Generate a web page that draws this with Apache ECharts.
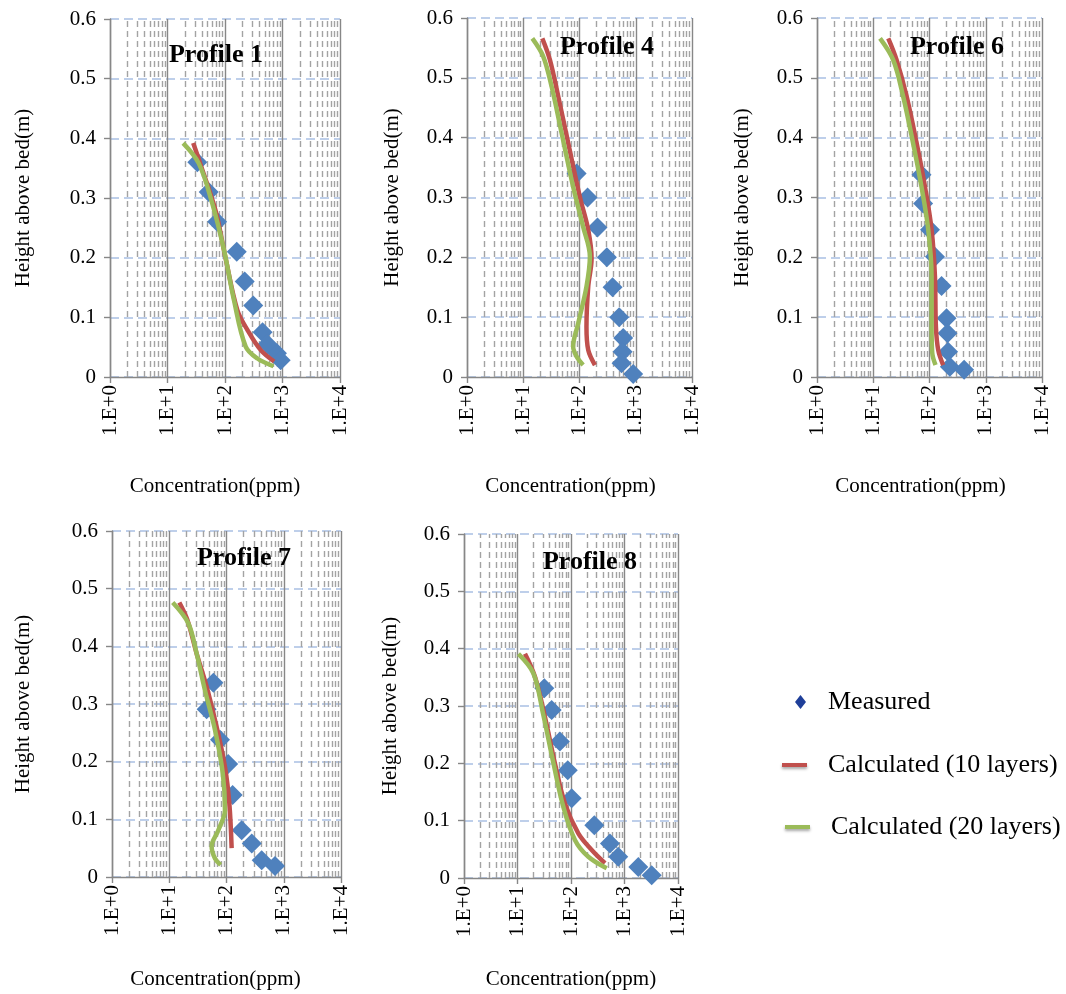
<!DOCTYPE html>
<html>
<head>
<meta charset="utf-8">
<script src="https://cdn.jsdelivr.net/npm/echarts@6/dist/echarts.min.js"></script>
<style>
  html, body { margin: 0; padding: 0; background: #ffffff; }
  #chart { width: 1066px; height: 994px; }
</style>
</head>
<body>
<div id="chart"></div>
<script>
// Suspended sediment concentration profiles: [concentration (ppm), height above bed (m)]
const profileNames = ['Profile 1', 'Profile 4', 'Profile 6', 'Profile 7', 'Profile 8'];
const seriesNames = ['Measured', 'Calculated (10 layers)', 'Calculated (20 layers)'];
const heightTicks = [0, 0.1, 0.2, 0.3, 0.4, 0.5, 0.6];
const concDecades = [1, 10, 100, 1000, 10000];
const minorMantissas = [2, 3, 4, 5, 6, 7, 8, 9];

const p1Measured = [[33, 0.36], [52, 0.31], [73, 0.26], [160, 0.21], [220, 0.16], [310, 0.12], [450, 0.075], [550, 0.055], [800, 0.04], [930, 0.028]];
const p1Calc10 = [[28, 0.392], [37, 0.358], [68, 0.28], [102, 0.2], [164, 0.112], [245, 0.079], [419, 0.045], [716, 0.026]];
const p1Calc20 = [[18.7, 0.392], [35, 0.358], [60, 0.291], [96, 0.213], [143, 0.129], [229, 0.051], [367, 0.031], [698, 0.018]];

const p4Measured = [[89, 0.34], [139, 0.30], [209, 0.25], [307, 0.20], [387, 0.15], [508, 0.10], [598, 0.065], [583, 0.042], [560, 0.023], [900, 0.005]];
const p4Calc10 = [[21.8, 0.566], [29.8, 0.53], [41.9, 0.469], [63, 0.391], [101.6, 0.301], [143, 0.246], [164, 0.198], [143, 0.151], [133, 0.084], [143, 0.045], [188, 0.02]];
const p4Calc20 = [[14.5, 0.566], [22.6, 0.536], [32, 0.485], [48, 0.408], [77, 0.318], [116, 0.251], [153, 0.201], [133, 0.151], [95, 0.09], [77, 0.051], [89, 0.034], [116, 0.02]];

const p6Measured = [[72, 0.338], [77, 0.29], [102, 0.246], [125, 0.201], [164, 0.152], [201, 0.098], [209, 0.073], [214, 0.042], [230, 0.017], [413, 0.012]];
const p6Calc10 = [[18.5, 0.566], [26, 0.53], [39.2, 0.469], [59, 0.391], [83, 0.318], [109, 0.246], [125, 0.168], [130, 0.084], [143, 0.045], [175, 0.02]];
const p6Calc20 = [[13.2, 0.566], [22.6, 0.53], [34, 0.469], [51, 0.391], [72, 0.318], [95, 0.246], [109, 0.168], [109, 0.084], [112, 0.04], [128, 0.02]];

const p7Measured = [[59, 0.337], [45, 0.291], [77, 0.238], [107, 0.196], [128, 0.142], [184, 0.081], [276, 0.058], [412, 0.029], [703, 0.019]];
const p7Calc10 = [[15, 0.476], [20.7, 0.446], [30, 0.388], [45, 0.33], [67, 0.261], [94, 0.191], [112, 0.128], [123, 0.05]];
const p7Calc20 = [[11.5, 0.476], [21.5, 0.44], [30, 0.388], [42, 0.324], [63, 0.255], [86, 0.18], [94, 0.116], [72, 0.081], [55, 0.053], [63, 0.032], [79, 0.021]];

const p8Measured = [[31.7, 0.331], [43.5, 0.293], [62, 0.238], [87, 0.188], [103, 0.139], [273, 0.092], [535, 0.06], [765, 0.037], [1810, 0.019], [3220, 0.005]];
const p8Calc10 = [[13.8, 0.391], [21.2, 0.351], [32.6, 0.281], [50, 0.2], [77, 0.13], [137, 0.078], [244, 0.049], [432, 0.026]];
const p8Calc20 = [[10.4, 0.391], [19.8, 0.357], [30, 0.287], [47, 0.2], [72, 0.124], [119, 0.066], [211, 0.037], [465, 0.017]];

const measuredSets = [p1Measured, p4Measured, p6Measured, p7Measured, p8Measured];
const calc10Sets = [p1Calc10, p4Calc10, p6Calc10, p7Calc10, p8Calc10];
const calc20Sets = [p1Calc20, p4Calc20, p6Calc20, p7Calc20, p8Calc20];

// Panel geometry (pixels) and label placement
const panels = [
  { left: 110, top: 19, width: 230, height: 358, yNameGap: 76, xNameGap: 99, xNameShift: 20, title: [216, 55] },
  { left: 467, top: 18, width: 225, height: 359, yNameGap: 64, xNameGap: 99, xNameShift: 18, title: [607, 47] },
  { left: 817, top: 18, width: 225, height: 359, yNameGap: 64, xNameGap: 99, xNameShift: 18, title: [957, 47] },
  { left: 112, top: 531, width: 229, height: 346, yNameGap: 78, xNameGap: 92, xNameShift: 22, title: [244, 558] },
  { left: 464, top: 534, width: 214, height: 344, yNameGap: 63, xNameGap: 91, xNameShift: 0, title: [590, 562] }
];

const FONT = '"Liberation Serif", "Times New Roman", serif';
const AXIS_GREY = '#878787';
const COLORS = { measured: '#4f81bd', calc10: '#c0504d', calc20: '#9bbb59' };

// Minor gridline positions on the log axis (2..9 within each decade)
const minorLines = [];
concDecades.slice(0, -1).forEach(d => minorMantissas.forEach(m => minorLines.push(d * m)));

const grid = [], xAxis = [], yAxis = [], series = [], graphic = [];

panels.forEach((p, i) => {
  grid.push({ left: p.left, top: p.top, width: p.width, height: p.height, containLabel: false });

  xAxis.push({
    type: 'log', logBase: 10, gridIndex: i,
    min: concDecades[0], max: concDecades[concDecades.length - 1],
    axisLine: { show: true, lineStyle: { color: AXIS_GREY, width: 1.4 } },
    axisTick: { show: true, length: 6, lineStyle: { color: AXIS_GREY, width: 1.4 } },
    axisLabel: {
      rotate: 90, margin: 8, color: '#000', fontFamily: FONT, fontSize: 21,
      formatter: v => '1.E+' + Math.round(Math.log10(v))
    },
    splitLine: { show: true, lineStyle: { color: AXIS_GREY, width: 1.4, type: 'solid' } },
    name: 'Concentration(ppm)', nameLocation: 'middle', nameGap: p.xNameGap,
    nameTextStyle: { color: '#000', fontFamily: FONT, fontSize: 21, padding: [0, p.xNameShift, 0, 0] }
  });

  yAxis.push({
    type: 'value', gridIndex: i, min: heightTicks[0], max: heightTicks[heightTicks.length - 1], interval: 0.1,
    axisLine: { show: true, lineStyle: { color: AXIS_GREY, width: 1.4 } },
    axisTick: { show: true, length: 6, lineStyle: { color: AXIS_GREY, width: 1.4 } },
    axisLabel: {
      margin: 14, color: '#000', fontFamily: FONT, fontSize: 21,
      formatter: v => (v === 0 ? '0' : v.toFixed(1))
    },
    splitLine: { show: true, lineStyle: { color: '#a9c0e4', width: 1.6, type: [9, 5] } },
    name: 'Height above bed(m)', nameLocation: 'middle', nameGap: p.yNameGap,
    nameTextStyle: { color: '#000', fontFamily: FONT, fontSize: 21 }
  });

  // dashed minor gridlines
  series.push({
    type: 'line', xAxisIndex: i, yAxisIndex: i, data: [], silent: true, z: 1,
    markLine: {
      silent: true, symbol: 'none', z: 1, animation: false,
      label: { show: false },
      lineStyle: { color: '#a3a3a3', width: 1.4, type: [6, 4] },
      emphasis: { disabled: true },
      data: minorLines.map(v => ({ xAxis: v }))
    }
  });

  series.push({
    name: seriesNames[0], type: 'scatter', xAxisIndex: i, yAxisIndex: i, z: 3,
    symbol: 'diamond', symbolSize: 20,
    itemStyle: { color: COLORS.measured, opacity: 1 },
    data: measuredSets[i]
  });
  series.push({
    name: seriesNames[1], type: 'line', xAxisIndex: i, yAxisIndex: i, z: 4,
    smooth: 0.35, symbol: 'none', showSymbol: false,
    lineStyle: { color: COLORS.calc10, width: 4.5 }, itemStyle: { color: COLORS.calc10 },
    data: calc10Sets[i]
  });
  series.push({
    name: seriesNames[2], type: 'line', xAxisIndex: i, yAxisIndex: i, z: 5,
    smooth: 0.35, symbol: 'none', showSymbol: false,
    lineStyle: { color: COLORS.calc20, width: 4.5 }, itemStyle: { color: COLORS.calc20 },
    data: calc20Sets[i]
  });

  graphic.push({
    type: 'text', x: p.title[0], y: p.title[1], z: 10,
    style: {
      text: profileNames[i], fill: '#000', font: 'bold 26px ' + FONT,
      align: 'center', verticalAlign: 'middle'
    }
  });
});

const legendText = { color: '#000', fontFamily: FONT, fontSize: 26 };
const lineShadow = { shadowColor: 'rgba(0,0,0,0.35)', shadowBlur: 3, shadowOffsetY: 2 };
const legend = [
  {
    left: 795, top: 689, padding: 0, itemWidth: 11, itemHeight: 14, selectedMode: false,
    data: [{ name: seriesNames[0], icon: 'diamond', itemStyle: { color: '#1f3f99', opacity: 1 } }],
    textStyle: Object.assign({ padding: [0, 0, 0, 17] }, legendText)
  },
  {
    left: 782, top: 752, padding: 0, itemWidth: 25, itemHeight: 4, selectedMode: false,
    data: [{ name: seriesNames[1], icon: 'rect',
      itemStyle: Object.assign({ color: COLORS.calc10, borderWidth: 0 }, lineShadow) }],
    textStyle: Object.assign({ padding: [0, 0, 0, 16] }, legendText)
  },
  {
    left: 785, top: 814, padding: 0, itemWidth: 25, itemHeight: 4, selectedMode: false,
    data: [{ name: seriesNames[2], icon: 'rect',
      itemStyle: Object.assign({ color: COLORS.calc20, borderWidth: 0 }, lineShadow) }],
    textStyle: Object.assign({ padding: [0, 0, 0, 16] }, legendText)
  }
];

const chart = echarts.init(document.getElementById('chart'), null, { renderer: 'canvas' });
chart.setOption({
  backgroundColor: '#ffffff',
  animation: false,
  grid, xAxis, yAxis, series, legend, graphic
});
</script>
</body>
</html>
